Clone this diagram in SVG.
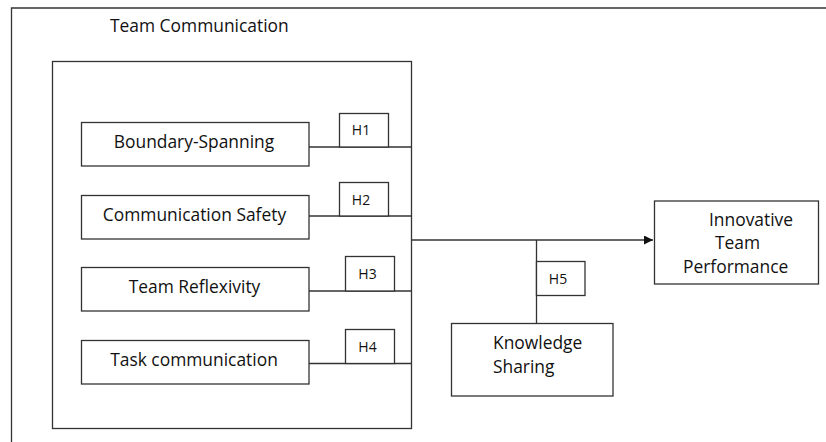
<svg xmlns="http://www.w3.org/2000/svg" width="826" height="442" viewBox="0 0 826 442">
<defs>
<style>
.box{fill:#fff;stroke:#333;stroke-width:1.3}
.ln{fill:none;stroke:#333;stroke-width:1.3}
.t{font-family:"Open Sans","Liberation Sans",sans-serif;font-size:17.4px;fill:#111}
.h{font-family:"Open Sans","Liberation Sans",sans-serif;font-size:14px;fill:#111}
.m{text-anchor:middle}
</style>
<marker id="arr" markerWidth="10" markerHeight="10" refX="9" refY="4.5" orient="auto" markerUnits="userSpaceOnUse">
<path d="M0,0 L9,4.5 L0,9 Z" fill="#111"/>
</marker>
</defs>
<rect width="826" height="442" fill="#fff"/>
<g id="frame">
<path class="ln" d="M11.5,442 V8 H826"/>
</g>
<g id="team-communication">
<rect class="box" x="52.5" y="61.5" width="359" height="367"/>
<text class="t" x="110" y="32">Team Communication</text>
</g>
<g id="boundary-spanning">
<rect class="box" x="81.5" y="122.5" width="227.5" height="43.5"/>
<text class="t m" x="194" y="147.5">Boundary-Spanning</text>
</g>
<g id="communication-safety">
<rect class="box" x="81.5" y="195.5" width="227.5" height="43.5"/>
<text class="t m" x="194.5" y="221">Communication Safety</text>
</g>
<g id="team-reflexivity">
<rect class="box" x="81.5" y="267.5" width="227.5" height="43.5"/>
<text class="t m" x="194.5" y="292.5">Team Reflexivity</text>
</g>
<g id="task-communication">
<rect class="box" x="81.5" y="340.5" width="227.5" height="43.5"/>
<text class="t m" x="194" y="366">Task communication</text>
</g>
<g id="innovative-team-performance">
<rect class="box" x="654.5" y="201" width="164" height="83"/>
<text class="t" x="709" y="226">Innovative</text>
<text class="t" x="715" y="249">Team</text>
<text class="t" x="683" y="273">Performance</text>
</g>
<g id="knowledge-sharing">
<rect class="box" x="451.5" y="323.5" width="161.5" height="72.5"/>
<text class="t" x="493" y="349">Knowledge</text>
<text class="t" x="493" y="373">Sharing</text>
</g>
<g id="connectors">
<path class="ln" d="M309,147 H411.5"/>
<path class="ln" d="M309,216 H411.5"/>
<path class="ln" d="M309,291 H411.5"/>
<path class="ln" d="M309,363.5 H411.5"/>
<path class="ln" d="M411.5,240 H653" marker-end="url(#arr)"/>
<path class="ln" d="M536.5,240 V323.5"/>
</g>
<g id="labels">
<g id="h1"><rect class="box" x="339.5" y="113.5" width="49" height="33.5"/><text class="h m" x="361" y="135">H1</text></g>
<g id="h2"><rect class="box" x="339.5" y="182.5" width="49" height="33.5"/><text class="h m" x="361" y="204.5">H2</text></g>
<g id="h3"><rect class="box" x="345.5" y="256.5" width="49" height="34.5"/><text class="h m" x="367.5" y="278.5">H3</text></g>
<g id="h4"><rect class="box" x="345.5" y="329.5" width="49" height="34"/><text class="h m" x="367.5" y="352">H4</text></g>
<g id="h5"><rect class="box" x="536.5" y="261.5" width="48.5" height="34"/><text class="h m" x="558" y="284">H5</text></g>
</g>
</svg>
